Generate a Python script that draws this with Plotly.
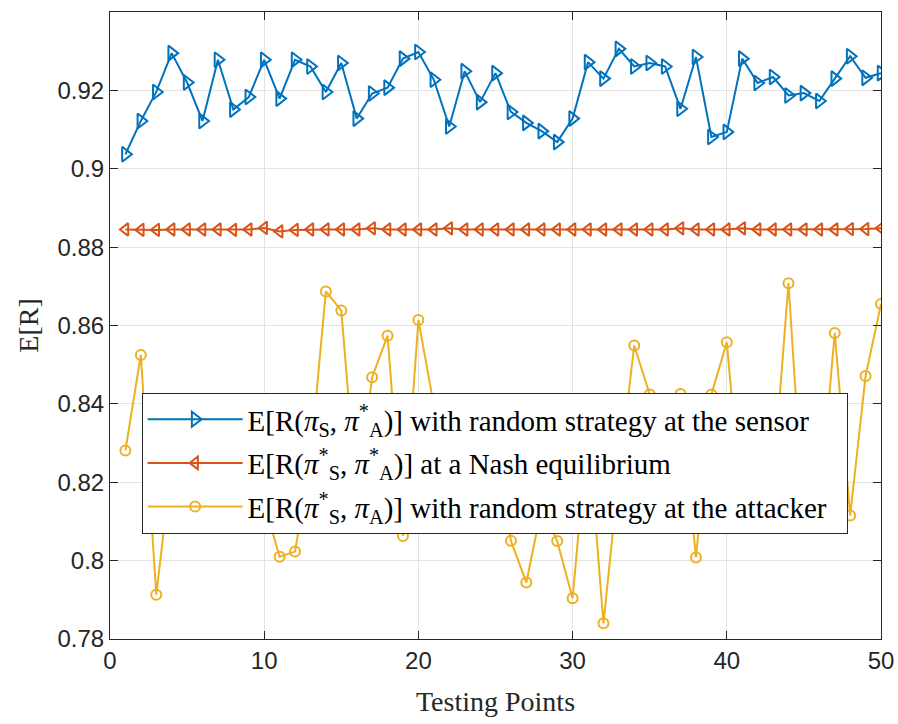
import plotly.graph_objects as go

x_points = list(range(1, 51))

sensor_random = [0.9037, 0.9122, 0.9196, 0.9295, 0.9220, 0.9122, 0.9278, 0.9151, 0.9183, 0.9278,
                 0.9179, 0.9278, 0.9261, 0.9196, 0.9270, 0.9128, 0.9192, 0.9207, 0.9281, 0.9298,
                 0.9227, 0.9108, 0.9249, 0.9170, 0.9244, 0.9145, 0.9117, 0.9096, 0.9068, 0.9128,
                 0.9272, 0.9230, 0.9306, 0.9261, 0.9270, 0.9261, 0.9153, 0.9285, 0.9081, 0.9094,
                 0.9281, 0.9219, 0.9234, 0.9187, 0.9193, 0.9173, 0.9230, 0.9287, 0.9232, 0.9244]

nash = [0.8845, 0.8844, 0.8844, 0.8845, 0.8845, 0.8845, 0.8845, 0.8844, 0.8845, 0.8849,
        0.8840, 0.8844, 0.8845, 0.8845, 0.8845, 0.8845, 0.8848, 0.8845, 0.8845, 0.8845,
        0.8845, 0.8848, 0.8845, 0.8845, 0.8845, 0.8845, 0.8845, 0.8845, 0.8845, 0.8845,
        0.8845, 0.8845, 0.8845, 0.8845, 0.8845, 0.8845, 0.8848, 0.8845, 0.8845, 0.8845,
        0.8848, 0.8845, 0.8845, 0.8845, 0.8845, 0.8845, 0.8845, 0.8846, 0.8846, 0.8848]

attacker_random = [0.8281, 0.8525, 0.7913, 0.8247, 0.8360, 0.8120, 0.8310, 0.8180, 0.8380, 0.8146,
                   0.8010, 0.8023, 0.8260, 0.8687, 0.8638, 0.8160, 0.8468, 0.8574, 0.8063, 0.8614,
                   0.8396, 0.8220, 0.8350, 0.8170, 0.8290, 0.8051, 0.7944, 0.8137, 0.8050, 0.7904,
                   0.8340, 0.7840, 0.8220, 0.8549, 0.8424, 0.8084, 0.8425, 0.8008, 0.8424, 0.8557,
                   0.8120, 0.8250, 0.8200, 0.8708, 0.8100, 0.8130, 0.8581, 0.8115, 0.8471, 0.8655]

x_ticks = [0, 10, 20, 30, 40, 50]
y_ticks = [0.78, 0.80, 0.82, 0.84, 0.86, 0.88, 0.90, 0.92, 0.94]
y_tick_labels = ["0.78", "0.8", "0.82", "0.84", "0.86", "0.88", "0.9", "0.92", "0.94"]

names = [
    "E[R(<i>π</i><sub>S</sub>, <i>π</i><sup>*</sup><sub>A</sub>)] with random strategy at the sensor",
    "E[R(<i>π</i><sup>*</sup><sub>S</sub>, <i>π</i><sup>*</sup><sub>A</sub>)] at a Nash equilibrium",
    "E[R(<i>π</i><sup>*</sup><sub>S</sub>, <i>π</i><sub>A</sub>)] with random strategy at the attacker\u00a0\u00a0",
]

fig = go.Figure()
fig.add_trace(go.Scatter(x=x_points, y=sensor_random, mode="lines+markers", name=names[0],
                         legendgroup="g1",
                         line=dict(color="#0072BD", width=2),
                         marker=dict(symbol="triangle-right-open", size=13, color="#0072BD",
                                     line=dict(width=2, color="#0072BD"))))
fig.add_trace(go.Scatter(x=x_points, y=nash, mode="lines+markers", name=names[1],
                         legendgroup="g2",
                         line=dict(color="#D95319", width=2),
                         marker=dict(symbol="triangle-left-open", size=11, color="#D95319",
                                     line=dict(width=2, color="#D95319"))))
fig.add_trace(go.Scatter(x=x_points, y=attacker_random, mode="lines+markers", name=names[2],
                         legendgroup="g3",
                         line=dict(color="#EDB120", width=2),
                         marker=dict(symbol="circle-open", size=10, color="#EDB120",
                                     line=dict(width=2, color="#EDB120"))))

axis_common = dict(showline=True, linecolor="#262626", linewidth=1, mirror="ticks",
                   ticks="inside", ticklen=8, tickcolor="#262626", tickwidth=1,
                   showgrid=True, gridcolor="#e3e3e3", gridwidth=1, zeroline=False,
                   automargin=False,
                   tickfont=dict(family="Liberation Sans, Arial", size=24, color="#262626"))

fig.update_xaxes(range=[0, 50], tickvals=x_ticks,
                 title=dict(text="Testing Points", font=dict(family="Liberation Serif, Times New Roman", size=28, color="#262626"), standoff=18),
                 **axis_common)
fig.update_yaxes(range=[0.78, 0.94], tickvals=y_ticks, ticktext=y_tick_labels,
                 title=dict(text="E[R]", font=dict(family="Liberation Serif, Times New Roman", size=28, color="#262626"), standoff=10),
                 **axis_common)

fig.update_layout(
    width=898, height=724,
    margin=dict(l=110, r=16.5, t=12, b=85),
    plot_bgcolor="white", paper_bgcolor="white",
    legend=dict(x=0.041, y=0.3926, xanchor="left", yanchor="top",
                bgcolor="white", bordercolor="#262626", borderwidth=1,
                font=dict(family="Liberation Serif, Times New Roman", size=29, color="black"),
                itemwidth=95, tracegroupgap=3),
    showlegend=True,
)

fig.write_html("out.html")
